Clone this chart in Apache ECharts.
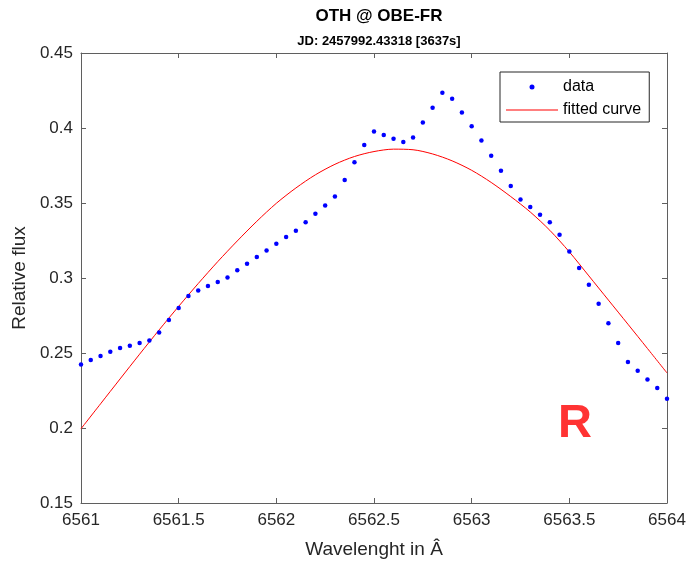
<!DOCTYPE html>
<html>
<head>
<meta charset="utf-8">
<script src="https://cdn.jsdelivr.net/npm/echarts@6/dist/echarts.min.js"></script>
<style>html,body{margin:0;padding:0;background:#fff}#c{width:689px;height:565px}</style>
</head>
<body>
<div id="c"></div>
<script>
const titleText = 'OTH @ OBE-FR';
const subtitleText = 'JD: 2457992.43318 [3637s]';
const xAxisName = 'Wavelenght in Â';
const yAxisName = 'Relative flux';
const bandLabel = 'R';

const dataWavelength = [
  6561.00, 6561.05, 6561.10, 6561.15, 6561.20, 6561.25, 6561.30, 6561.35, 6561.40, 6561.45,
  6561.50, 6561.55, 6561.60, 6561.65, 6561.70, 6561.75, 6561.80, 6561.85, 6561.90, 6561.95,
  6562.00, 6562.05, 6562.10, 6562.15, 6562.20, 6562.25, 6562.30, 6562.35, 6562.40, 6562.45,
  6562.50, 6562.55, 6562.60, 6562.65, 6562.70, 6562.75, 6562.80, 6562.85, 6562.90, 6562.95,
  6563.00, 6563.05, 6563.10, 6563.15, 6563.20, 6563.25, 6563.30, 6563.35, 6563.40, 6563.45,
  6563.50, 6563.55, 6563.60, 6563.65, 6563.70, 6563.75, 6563.80, 6563.85, 6563.90, 6563.95,
  6564.00
];
const dataFlux = [
  0.2424, 0.2453, 0.2480, 0.2509, 0.2533, 0.2549, 0.2567, 0.2584, 0.2637, 0.2720,
  0.2800, 0.2880, 0.2917, 0.2947, 0.2973, 0.3004, 0.3051, 0.3095, 0.3140, 0.3184,
  0.3229, 0.3273, 0.3315, 0.3371, 0.3429, 0.3484, 0.3544, 0.3653, 0.3771, 0.3887,
  0.3977, 0.3953, 0.3929, 0.3907, 0.3937, 0.4037, 0.4135, 0.4235, 0.4195, 0.4104,
  0.4011, 0.3917, 0.3815, 0.3715, 0.3613, 0.3524, 0.3473, 0.3422, 0.3371, 0.3289,
  0.3177, 0.3067, 0.2955, 0.2829, 0.2698, 0.2567, 0.2440, 0.2382, 0.2324, 0.2267,
  0.2195
];

const fitWavelength = [
  6561.0, 6561.1, 6561.2, 6561.3, 6561.4, 6561.5, 6561.6, 6561.7, 6561.8, 6561.9,
  6562.0, 6562.1, 6562.2, 6562.3, 6562.4, 6562.5, 6562.6, 6562.7, 6562.8, 6562.9,
  6563.0, 6563.1, 6563.2, 6563.3, 6563.4, 6563.5, 6563.6, 6563.7, 6563.8, 6563.9,
  6564.0
];
const fitFlux = [
  0.1995, 0.2161, 0.2327, 0.2492, 0.2654, 0.2811, 0.2963, 0.3109, 0.3247, 0.3378,
  0.3498, 0.3600, 0.3688, 0.3758, 0.3810, 0.3843, 0.3859, 0.3855, 0.3827, 0.3781,
  0.3718, 0.3637, 0.3543, 0.3440, 0.3318, 0.3174, 0.3014, 0.2853, 0.2692, 0.2530,
  0.2367
];

const xTicks = [6561, 6561.5, 6562, 6562.5, 6563, 6563.5, 6564];
const yTicks = [0.15, 0.2, 0.25, 0.3, 0.35, 0.4, 0.45];

const FONT = '"Liberation Sans", Arial, sans-serif';
const AXIS_COLOR = '#5f5f5f';
const TEXT_COLOR = '#262626';

const chart = echarts.init(document.getElementById('c'), null, {renderer: 'canvas'});

const xMin = xTicks[0], xMax = xTicks[xTicks.length - 1];
const yMin = yTicks[0], yMax = yTicks[yTicks.length - 1];

function baseX(extra) {
  return Object.assign({
    type: 'value', min: xMin, max: xMax, interval: 0.5,
    axisLine: {show: true, onZero: false, lineStyle: {color: AXIS_COLOR, width: 1}},
    axisTick: {show: true, inside: true, length: 5, lineStyle: {color: AXIS_COLOR}},
    splitLine: {show: false}
  }, extra);
}
function baseY(extra) {
  return Object.assign({
    type: 'value', min: yMin, max: yMax, interval: 0.05,
    axisLine: {show: true, onZero: false, lineStyle: {color: AXIS_COLOR, width: 1}},
    axisTick: {show: true, inside: true, length: 5, lineStyle: {color: AXIS_COLOR}},
    splitLine: {show: false}
  }, extra);
}

const option = {
  backgroundColor: '#ffffff',
  animation: false,
  textStyle: {fontFamily: FONT},
  title: [
    {text: titleText, left: 374, top: 3, textAlign: 'center',
     textStyle: {fontFamily: FONT, fontSize: 17, fontWeight: 'bold', color: '#000'}},
    {text: subtitleText, left: 374, top: 30, textAlign: 'center',
     textStyle: {fontFamily: FONT, fontSize: 13, fontWeight: 'bold', color: '#000'}}
  ],
  grid: {left: 81, right: 22, top: 53, bottom: 62, containLabel: false},
  xAxis: [
    baseX({
      position: 'bottom',
      name: xAxisName, nameLocation: 'middle', nameGap: 37,
      nameTextStyle: {fontFamily: FONT, fontSize: 19, color: TEXT_COLOR},
      axisLabel: {show: true, margin: 9, fontFamily: FONT, fontSize: 17, color: TEXT_COLOR,
                  formatter: v => String(v), showMinLabel: true, showMaxLabel: true}
    }),
    baseX({position: 'top', axisLabel: {show: false}})
  ],
  yAxis: [
    baseY({
      position: 'left',
      name: yAxisName, nameLocation: 'middle', nameGap: 47, nameRotate: 90,
      nameTextStyle: {fontFamily: FONT, fontSize: 19, color: TEXT_COLOR},
      axisLabel: {show: true, margin: 8, fontFamily: FONT, fontSize: 17, color: TEXT_COLOR,
                  formatter: v => String(+v.toFixed(2)), showMinLabel: true, showMaxLabel: true}
    }),
    baseY({position: 'right', axisLabel: {show: false}})
  ],
  legend: {
    orient: 'vertical',
    left: 500, top: 72,
    backgroundColor: '#ffffff',
    borderColor: '#262626', borderWidth: 1,
    padding: [7, 8, 4, 6],
    itemGap: 7,
    itemWidth: 52, itemHeight: 5,
    textStyle: {fontFamily: FONT, fontSize: 16, color: '#000'},
    data: [
      {name: 'data'},
      {name: 'fitted curve', icon: 'path://M0,0 H52 V1 H0 Z'}
    ]
  },
  series: [
    {
      name: 'data', type: 'scatter',
      xAxisIndex: 0, yAxisIndex: 0,
      symbol: 'circle', symbolSize: 4.5,
      itemStyle: {color: '#0000ff', opacity: 1},
      data: dataWavelength.map((w, i) => [w, dataFlux[i]]),
      z: 3
    },
    {
      name: 'fitted curve', type: 'line',
      xAxisIndex: 0, yAxisIndex: 0,
      symbol: 'none', showSymbol: false, smooth: 0.3,
      lineStyle: {color: '#ff0000', width: 1},
      itemStyle: {color: '#ff0000'},
      data: fitWavelength.map((w, i) => [w, fitFlux[i]]),
      z: 2
    }
  ],
  graphic: [
    {type: 'text', left: 558, top: 401, z: 10,
     style: {text: bandLabel, fontFamily: FONT, fontSize: 47, fontWeight: 'bold', fill: '#ff3333'}}
  ]
};
chart.setOption(option);
</script>
</body>
</html>
